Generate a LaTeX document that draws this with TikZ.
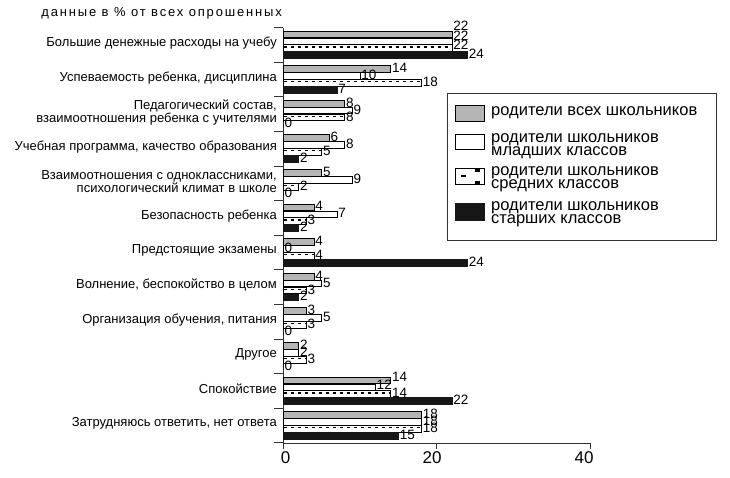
\documentclass[tikz,border=0pt]{standalone}
\usepackage{fontspec}
\setmainfont{Liberation Sans}
\usepackage{xcolor}
\definecolor{bargray}{gray}{0.71}
\definecolor{barblack}{gray}{0.09}
\definecolor{axisgray}{gray}{0.2}

\tikzset{
  graybar/.style={draw=black, fill=bargray, line width=0.8pt},
  whitebar/.style={draw=black, fill=white, line width=0.8pt},
  blackbar/.style={draw=barblack, fill=barblack, line width=0.8pt},
  dashrow/.style={black, line width=1.2pt, dash pattern=on 3.5pt off 3.5pt},
  catlabel/.style={anchor=east, align=right, inner sep=0pt, font=\fontsize{13}{10.5}\selectfont},
  vallabel/.style={anchor=west, inner sep=1pt, font=\fontsize{13.5}{13.5}\selectfont},
  legtext/.style={anchor=west, align=left, inner sep=0pt, font=\fontsize{16.5}{13.3}\selectfont},
  ticklabel/.style={inner sep=0pt, font=\fontsize{17}{17}\selectfont},
}

\begin{document}
\begin{tikzpicture}[x=1pt, y=-1pt]
\useasboundingbox[fill=white] (0,0) rectangle (730,477);

%%%%% Title %%%%%
\node[anchor=east, inner sep=0pt, font=\fontsize{13}{13}\selectfont\addfontfeatures{LetterSpace=14}] (title) at (282,13) {данные в \% от всех опрошенных};

%%%%% Axis %%%%%
\draw[axisgray, line width=0.9pt] (283,27.7) -- (283,443) -- (590.7,443);
\foreach \i in {0,...,12}{
\draw[axisgray, line width=0.9pt] (274,27.7+\i*34.6) -- (283,27.7+\i*34.6);
}
\foreach \v in {0,20,40}{
\draw[axisgray, line width=0.9pt] (283.5+\v*7.67,443) -- ++(0,6);
}
\node[ticklabel] (t0) at (285.7,458) {0};
\node[ticklabel] (t20) at (432,458) {20};
\node[ticklabel] (t40) at (584,458) {40};

%%%%% Categories %%%%%
\foreach \i/\txt in {1/{Большие денежные расходы на учебу},
  2/{Успеваемость ребенка, дисциплина},
  3/{Педагогический состав,\\взаимоотношения ребенка с учителями},
  4/{Учебная программа, качество образования},
  5/{Взаимоотношения с одноклассниками,\\психологический климат в школе},
  6/{Безопасность ребенка},
  7/{Предстоящие экзамены},
  8/{Волнение, беспокойство в целом},
  9/{Организация обучения, питания},
  10/{Другое},
  11/{Спокойствие},
  12/{Затрудняюсь ответить, нет ответа}}{
\node[catlabel] (cat\i) at (277,27.7+\i*34.6-34.6+15.3) {\txt};
}

%%%%% Bars %%%%%
\begin{scope}[xshift=283.5pt, x=7.67pt]
\foreach \i/\s/\a/\b/\c/\d in {1/2.4/22/22/22/24, 2/0/14/10/18/7, 3/0/8/9/8/0,
  4/0/6/8/5/2, 5/0/5/9/2/0, 6/0/4/7/3/2, 7/0/4/0/4/24, 8/0/4/5/3/2,
  9/0/3/5/3/0, 10/0/2/2/3/0, 11/0.7/14/12/14/22, 12/0/18/18/18/15}{
\pgfmathsetmacro\T{27.7+(\i-1)*34.6}
\draw[graybar] (0,\T+3.3) rectangle (\a,\T+10);
\draw[whitebar] (0,\T+10.2) rectangle (\b,\T+16.9);
\draw[whitebar] (0,\T+17.1) rectangle (\c,\T+23.8);
\draw[dashrow] (0,\T+19.2) -- (\c,\T+19.2);
\draw[blackbar] (0,\T+24) rectangle (\d,\T+30.7);
\node[vallabel] (va\i) at (\a,\T+6.65-1-3*\s) {\a};
\node[vallabel] (vb\i) at (\b,\T+13.55-1-2*\s) {\b};
\node[vallabel] (vc\i) at (\c,\T+20.45-1-\s) {\c};
\node[vallabel] (vd\i) at (\d,\T+27.35-1) {\d};
}
\end{scope}

%%%%% Legend %%%%%
\draw[axisgray, line width=0.9pt] (447,93) rectangle (716,240);
\draw[graybar] (455,105.3) rectangle (484,121.3);
\draw[whitebar] (455,134.3) rectangle (484,149.3);
\draw[whitebar] (455,168.3) rectangle (484,184.5);
\fill[black] (474.7,168.7) rectangle (480.3,171.7);
\fill[black] (461.3,175) rectangle (466.3,177.3);
\fill[black] (474.7,181.3) rectangle (480.3,184.1);
\draw[blackbar] (455,203.3) rectangle (484,220.7);
\node[legtext] (leg1) at (491,113) {родители всех школьников};
\node[legtext] (leg2) at (491,146) {родители школьников\\младших классов};
\node[legtext] (leg3) at (491,179) {родители школьников\\средних классов};
\node[legtext] (leg4) at (491,214) {родители школьников\\старших классов};
\end{tikzpicture}
\end{document}
